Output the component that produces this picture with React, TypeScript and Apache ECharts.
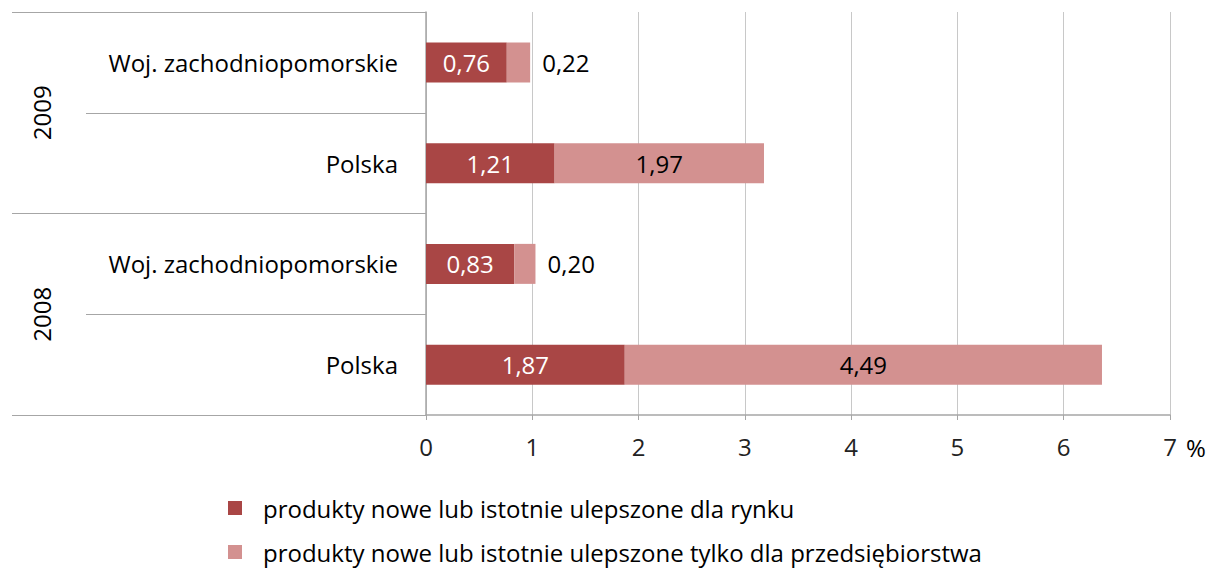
import React, { useEffect, useRef } from "react";
import * as echarts from "echarts";

const categories = ["Woj. zachodniopomorskie", "Polska", "Woj. zachodniopomorskie", "Polska"];
const years = ["2009", "2008"];
const rynek = [0.76, 1.21, 0.83, 1.87];
const przedsiebiorstwo = [0.22, 1.97, 0.2, 4.49];
const seriesNames = [
  "produkty nowe lub istotnie ulepszone dla rynku",
  "produkty nowe lub istotnie ulepszone tylko dla przedsiębiorstwa",
];
const FONT = "'Open Sans', sans-serif";
const FS = 24;
const fmt = (v: number) => v.toFixed(2).replace(".", ",");

export default function App() {
  const ref = useRef<HTMLDivElement>(null);
  useEffect(() => {
    if (!ref.current) return;
    const chart = echarts.init(ref.current, null, { renderer: "svg" });
    chart.setOption({
      animation: false,
      textStyle: { fontFamily: FONT },
      grid: { left: 426, right: 51, top: 12, bottom: 153, containLabel: false },
      legend: {
        orient: "vertical",
        left: 228,
        top: 496,
        padding: 0,
        itemWidth: 14,
        itemHeight: 14,
        itemGap: 20,
        icon: "rect",
        textStyle: { fontSize: FS, color: "#000", fontFamily: FONT, padding: [0, 0, 0, 16] },
        data: seriesNames,
      },
      xAxis: {
        type: "value",
        min: 0,
        max: 7,
        interval: 1,
        name: "%",
        nameLocation: "end",
        nameGap: 16,
        nameTextStyle: { fontSize: FS, color: "#000", fontFamily: FONT, verticalAlign: "top", padding: [20, 0, 0, 0] },
        axisLine: { show: true, lineStyle: { color: "#A6A6A6", width: 1.5 } },
        axisTick: { show: true, length: 5, lineStyle: { color: "#A6A6A6" } },
        splitLine: { show: true, lineStyle: { color: "#C8C8C8", width: 1 } },
        axisLabel: { fontSize: FS, color: "#222", margin: 19, fontFamily: FONT },
      },
      yAxis: [
        {
          type: "category",
          inverse: true,
          position: "left",
          data: categories,
          axisLine: { show: true, lineStyle: { color: "#A6A6A6", width: 1.5 } },
          axisTick: { show: true, length: 340, lineStyle: { color: "#A6A6A6" } },
          axisLabel: { fontSize: FS, color: "#000", margin: 28, fontFamily: FONT },
        },
        {
          type: "category",
          inverse: true,
          position: "left",
          data: years,
          axisLine: { show: false },
          axisTick: { show: true, length: 414, lineStyle: { color: "#A6A6A6" } },
          axisLabel: { fontSize: FS, color: "#000", rotate: 90, margin: 373, fontFamily: FONT },
        },
      ],
      series: [
        {
          name: seriesNames[0],
          type: "bar",
          stack: "total",
          yAxisIndex: 0,
          barWidth: 40,
          itemStyle: { color: "#A94645" },
          label: {
            show: true,
            position: "inside",
            color: "#fff",
            fontSize: FS,
            fontFamily: FONT,
            formatter: (p: any) => fmt(p.value),
          },
          data: rynek,
        },
        {
          name: seriesNames[1],
          type: "bar",
          stack: "total",
          yAxisIndex: 0,
          barWidth: 40,
          itemStyle: { color: "#D39190" },
          label: {
            show: true,
            position: "inside",
            color: "#000",
            fontSize: FS,
            fontFamily: FONT,
            formatter: (p: any) => fmt(p.value),
          },
          data: przedsiebiorstwo.map((v) =>
            v < 0.5 ? { value: v, label: { position: "right", distance: 12 } } : v
          ),
        },
      ],
    });
    return () => chart.dispose();
  }, []);
  return (
    <div
      ref={ref}
      style={{ position: "absolute", left: 0, top: 0, width: 1221, height: 568 }}
    />
  );
}
